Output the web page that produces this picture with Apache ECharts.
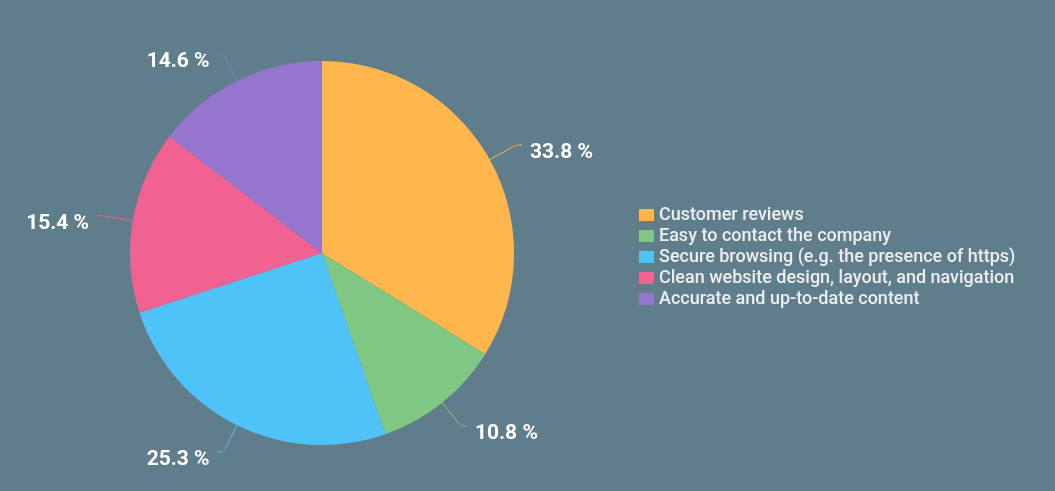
<!DOCTYPE html>
<html>
<head>
<meta charset="utf-8">
<script src="https://cdn.jsdelivr.net/npm/echarts@6/dist/echarts.min.js"></script>
<style>
html,body{margin:0;padding:0;background:#607d8b;}
#c{width:1055px;height:491px;}
</style>
</head>
<body>
<div id="c"></div>
<script>
const categories = [
  'Customer reviews',
  'Easy to contact the company',
  'Secure browsing (e.g. the presence of https)',
  'Clean website design, layout, and navigation',
  'Accurate and up-to-date content'
];
const values = [33.8, 10.8, 25.3, 15.4, 14.6];
const colors = ['#ffb74d', '#81c784', '#4fc3f7', '#f06292', '#9575cd'];

const chart = echarts.init(document.getElementById('c'));
chart.setOption({
  backgroundColor: '#607d8b',
  animation: false,
  color: colors,
  legend: {
    orient: 'vertical',
    left: 634,
    top: 201,
    itemWidth: 15,
    itemHeight: 12,
    itemGap: 3,
    icon: 'rect',
    textStyle: { color: '#eceff1', fontSize: 18, lineHeight: 18, fontWeight: 500, fontFamily: 'Roboto' },
    data: categories
  },
  series: [{
    type: 'pie',
    center: [322, 253],
    radius: [0, 192],
    startAngle: 90,
    clockwise: true,
    label: {
      formatter: '{s| }\n{v|{c} %}',
      distanceToLabelLine: 8,
      rich: {
        s: { fontSize: 1, lineHeight: 16 },
        v: {
          color: '#ffffff',
          fontFamily: 'Roboto',
          fontWeight: 'bold',
          fontSize: 21,
          lineHeight: 24
        }
      }
    },
    labelLine: { length: 30, length2: 6, smooth: true, lineStyle: { width: 1 } },
    itemStyle: { borderWidth: 0 },
    data: categories.map((n, i) => ({ name: n, value: values[i] }))
  }]
});
</script>
</body>
</html>
